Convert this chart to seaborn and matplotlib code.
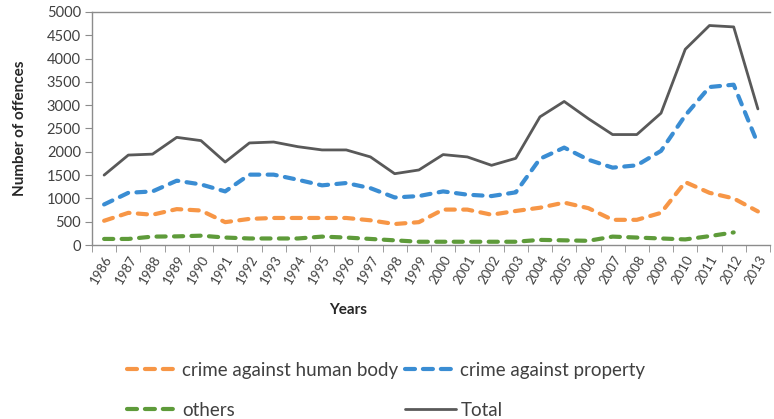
import matplotlib
matplotlib.use("Agg")
import matplotlib.pyplot as plt
import seaborn as sns
import numpy as np
import pandas as pd

years = list(range(1986, 2014))
human_body = [520, 690, 650, 770, 740, 490, 560, 580, 580, 580, 580, 530, 450, 490,
              760, 760, 650, 730, 800, 910, 790, 540, 540, 690, 1350, 1120, 1000, 720]
property_crime = [870, 1120, 1150, 1380, 1300, 1150, 1510, 1510, 1400, 1280, 1330, 1220, 1020, 1050,
                  1150, 1080, 1050, 1130, 1850, 2090, 1830, 1660, 1710, 2020, 2780, 3390, 3440, 2170]
others = [130, 130, 180, 185, 200, 160, 140, 140, 140, 180, 160, 130, 100, 70,
          70, 70, 70, 70, 110, 100, 90, 180, 160, 140, 120, 190, 270, np.nan]
total = [1500, 1930, 1950, 2310, 2240, 1780, 2190, 2210, 2110, 2040, 2040, 1890, 1530, 1610,
         1940, 1890, 1710, 1860, 2750, 3080, 2710, 2370, 2370, 2830, 4200, 4710, 4680, 2920]

series_names = ["crime against human body", "crime against property", "others", "Total"]
series_colors = ["#F79646", "#3A8DD3", "#5E9B3A", "#595959"]

df = pd.DataFrame({
    "Year": [str(y) for y in years],
    series_names[0]: human_body,
    series_names[1]: property_crime,
    series_names[2]: others,
    series_names[3]: total,
})
long = df.melt(id_vars="Year", var_name="Series", value_name="Offences")
long["pos"] = long["Year"].astype(int) - years[0]

sns.set_style("white")
plt.rcParams["font.family"] = ["Lato", "DejaVu Sans"]

fig = plt.figure(figsize=(7.74, 4.19), dpi=100)
ax = fig.add_axes([92 / 774, 1 - 245 / 419, (770 - 92) / 774, (245 - 12) / 419])

sns.lineplot(data=long, x="pos", y="Offences", hue="Series", hue_order=series_names,
             palette=series_colors, ax=ax, legend=False, sort=False)

dash = (0, (2.2, 2.0))
for line, name in zip(ax.get_lines(), series_names):
    if name == "Total":
        line.set_linewidth(2.0)
        line.set_linestyle("-")
    else:
        line.set_linewidth(3.0)
        line.set_linestyle(dash)
        line.set_dash_capstyle("round")
    line.set_solid_joinstyle("round")

n = len(years)
ax.set_xlim(-0.5, n - 0.5)
ax.set_ylim(0, 5000)
ax.set_yticks(np.arange(0, 5001, 500))
ax.set_xticks(range(n))
ax.set_xticklabels([str(y) for y in years], rotation=60, ha="right",
                   rotation_mode="anchor", fontsize=9.5, color="#404040")
ax.set_xticks(np.arange(-0.5, n, 1), minor=True)
ax.tick_params(axis="x", which="major", length=0, pad=6)
ax.tick_params(axis="x", which="minor", length=5, color="#8C8C8C", direction="out", bottom=True)
ax.tick_params(axis="y", length=5, color="#8C8C8C", direction="out", left=True,
               labelsize=10.5, labelcolor="#404040", pad=3)

for side in ["left", "bottom", "top"]:
    ax.spines[side].set_color("#8C8C8C")
    ax.spines[side].set_linewidth(1.0)
ax.spines["right"].set_visible(False)

ax.set_ylabel("Number of offences", fontsize=11, fontweight="bold", labelpad=14)
ax.set_xlabel("")
fig.text(348 / 774, 1 - 310 / 419, "Years", fontsize=11, fontweight="bold",
         ha="center", va="center")

# legend laid out row by row: (human body, property) / (others, Total)
order = [0, 2, 1, 3]
handles = [plt.Line2D([], [], color=series_colors[i],
                      linewidth=2.0 if series_names[i] == "Total" else 3.0,
                      linestyle="-" if series_names[i] == "Total" else (0, (2.4, 1.9)),
                      dash_capstyle="round")
           for i in order]
labels = [series_names[i] for i in order]
leg = fig.legend(handles, labels, loc="upper left",
                 bbox_to_anchor=(127 / 774, 1 - 362 / 419), ncol=2,
                 frameon=False, fontsize=13.5, handlelength=2.7, handletextpad=0.25,
                 columnspacing=0.35, labelspacing=1.2, borderaxespad=0, borderpad=0)
for t in leg.get_texts():
    t.set_color("#404040")

fig.savefig("out.png", dpi=100)
